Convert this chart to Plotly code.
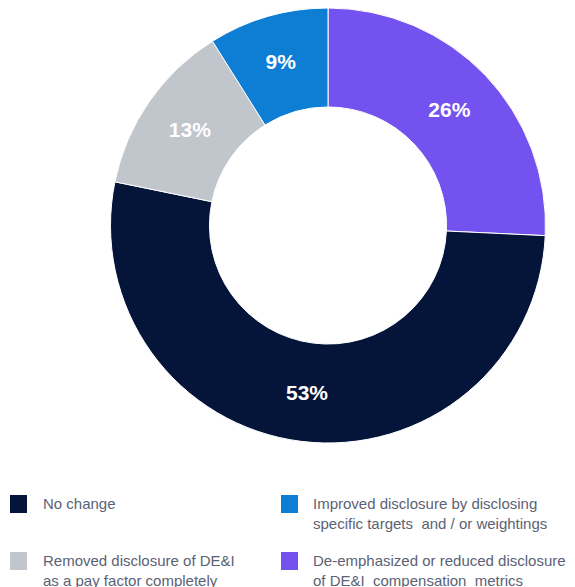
import plotly.graph_objects as go

# Slice data, clockwise from 12 o'clock
labels = [
    "De-emphasized or reduced disclosure<br>of DE&I\u00a0 compensation\u00a0 metrics",
    "No change",
    "Removed disclosure of DE&I<br>as a pay factor completely",
    "Improved disclosure by disclosing<br>specific targets\u00a0 and / or weightings",
]
values = [26, 53, 13, 9]
colors = ["#7452F0", "#05153A", "#C1C5CC", "#0E7ED4"]

# Legend layout: order of entries (indices into the lists above), 2 columns
legend_order = [1, 3, 2, 0]

W, H = 575, 587

def px_x(x):
    return x / W

def px_y(y):
    return 1 - y / H

# Donut placement (pixels)
cx, cy, r = 328, 225.5, 217.5

fig = go.Figure(
    go.Pie(
        labels=labels,
        values=values,
        sort=False,
        direction="clockwise",
        rotation=0,
        hole=0.545,
        marker=dict(colors=colors, line=dict(color="white", width=1)),
        texttemplate="%{value}%",
        textposition="inside",
        insidetextorientation="horizontal",
        textfont=dict(color="white", size=21, family="Liberation Sans", weight="bold"),
        hoverinfo="label+value",
        showlegend=False,
        domain=dict(
            x=[px_x(cx - r), px_x(cx + r)],
            y=[px_y(cy + r), px_y(cy - r)],
        ),
    )
)

# Two-column legend drawn as squares and labels
col_x = [(10, 41), (281, 311)]
row_y = [495, 552]
shapes = []
annotations = []
for k, idx in enumerate(legend_order):
    row, col = divmod(k, 2)
    sx, tx = col_x[col]
    sy = row_y[row]
    shapes.append(dict(
        type="rect", xref="paper", yref="paper",
        x0=px_x(sx), x1=px_x(sx + 17),
        y0=px_y(sy + 18), y1=px_y(sy),
        fillcolor=colors[idx], line=dict(width=0),
    ))
    annotations.append(dict(
        text=labels[idx], xref="paper", yref="paper",
        x=px_x(tx), y=px_y(sy - 2),
        xanchor="left", yanchor="top", align="left",
        showarrow=False,
        font=dict(family="Liberation Sans", size=15, color="#5B6275"),
    ))

fig.update_layout(
    width=W, height=H,
    margin=dict(l=0, r=0, t=0, b=0),
    paper_bgcolor="white",
    plot_bgcolor="white",
    shapes=shapes,
    annotations=annotations,
)

fig.write_html("out.html")
